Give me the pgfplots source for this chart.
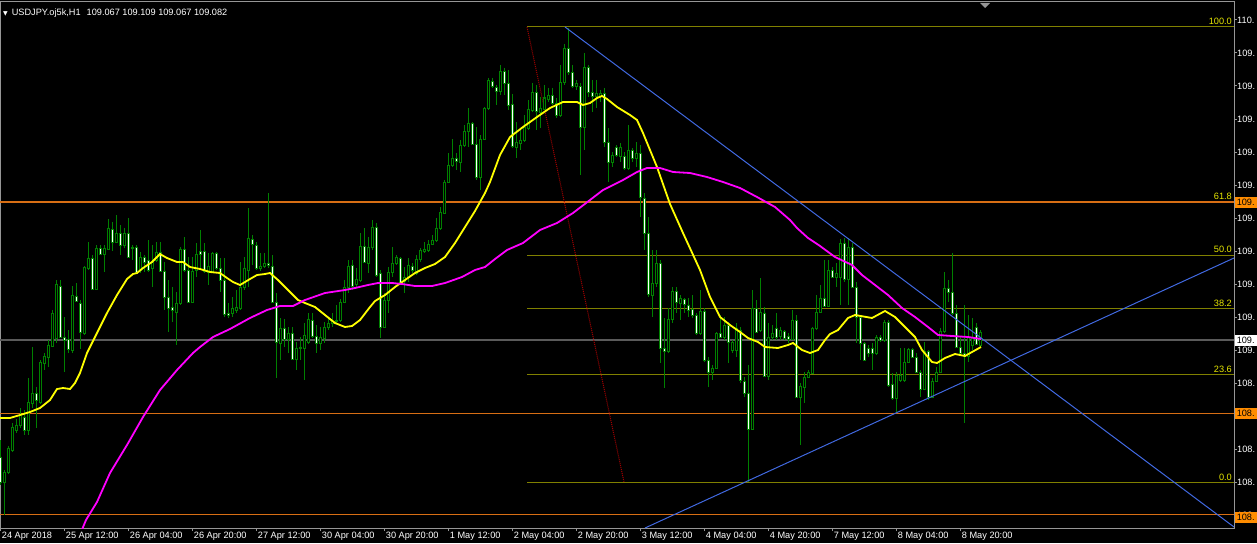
\documentclass[border=0pt]{standalone}
\usepackage{pgfplots}
\pgfplotsset{compat=1.18}
\usepackage{pgfplotstable}
\usepackage{fontspec}
\setmainfont{Liberation Sans}
\newfontfamily\dejavu{DejaVu Sans}
\definecolor{cgreen}{RGB}{0,128,0}
\definecolor{fibc}{RGB}{128,128,0}
\definecolor{fibt}{RGB}{230,230,0}
\definecolor{orng}{RGB}{215,110,20}
\definecolor{orbox}{RGB}{255,140,0}
\definecolor{tline}{RGB}{65,105,225}
\definecolor{bidc}{RGB}{90,90,90}
\definecolor{frm}{RGB}{150,150,150}
\definecolor{mag}{RGB}{255,0,255}
\definecolor{yel}{RGB}{255,255,0}
\definecolor{fibd}{RGB}{160,0,0}

% candles: bar index, open, high, low, close (price scale in chart pixels, top = high)
\pgfplotstableread{
i o h l c
0 457 440 485 482
1 482 470 515 472
2 472 446 474 448
3 450 423 452 427
4 430 419 433 425
5 425 408 428 415
6 417 410 435 430
7 430 378 435 402
8 403 347 408 393
9 393 387 428 400
10 402 360 404 362
11 363 353 370 356
12 357 340 367 345
13 346 310 347 313
14 338 280 343 284
15 286 280 338 337
16 337 317 372 340
17 339 330 353 349
18 350 286 353 295
19 296 283 302 301
20 303 300 349 332
21 333 266 335 267
22 268 242 270 258
23 258 255 290 289
24 289 245 290 248
25 248 245 255 254
26 254 245 272 248
27 249 219 250 228
28 229 222 251 242
29 242 215 243 233
30 233 225 255 245
31 245 228 248 233
32 233 218 258 257
33 248 245 260 247
34 247 245 273 272
35 270 252 273 257
36 257 255 272 262
37 260 240 272 270
38 268 245 287 262
39 260 242 262 252
40 252 242 272 271
41 271 262 310 297
42 297 280 332 308
43 307 287 322 310
44 312 292 345 303
45 303 247 305 249
46 249 237 272 270
47 270 257 303 302
48 302 257 303 271
49 270 243 277 254
50 251 230 270 254
51 251 243 273 271
52 272 253 285 266
53 271 252 273 253
54 253 252 270 268
55 268 258 292 280
56 280 258 317 314
57 313 303 318 315
58 313 297 317 308
59 310 290 313 307
60 308 262 310 287
61 287 257 290 268
62 270 208 287 238
63 239 235 265 244
64 245 242 270 268
65 268 253 271 266
66 266 253 268 263
67 263 193 268 265
68 266 255 303 302
69 302 293 378 342
70 343 318 360 328
71 328 319 347 339
72 339 327 353 333
73 333 327 360 359
74 359 342 370 348
75 348 337 360 347
76 348 323 380 335
77 342 313 344 319
78 320 313 338 336
79 336 325 353 343
80 343 327 350 337
81 338 322 343 327
82 327 317 330 323
83 323 313 327 321
84 321 305 323 320
85 320 299 322 302
86 302 280 303 287
87 287 260 293 266
88 265 260 290 286
89 284 268 287 279
90 280 233 282 246
91 246 228 263 262
92 263 237 273 247
93 247 220 250 227
94 227 223 277 275
95 273 270 338 327
96 327 293 328 300
97 300 267 313 272
98 272 247 277 263
99 263 255 265 257
100 258 257 283 282
101 281 267 293 277
102 277 258 282 265
103 266 263 273 270
104 273 255 275 259
105 259 248 262 250
106 251 242 253 249
107 250 240 252 244
108 244 235 245 240
109 240 218 242 228
110 228 207 230 212
111 213 180 214 182
112 182 153 183 165
113 165 139 167 158
114 158 153 170 161
115 162 140 172 145
116 145 125 147 131
117 131 108 147 123
118 123 122 145 144
119 144 127 180 177
120 177 135 190 139
121 139 107 140 108
122 108 78 110 81
123 82 78 88 87
124 88 85 105 92
125 92 65 95 72
126 72 68 95 84
127 84 70 110 105
128 104 94 148 146
129 147 122 158 142
130 143 128 150 140
131 140 115 142 127
132 128 100 130 109
133 110 83 112 93
134 93 85 130 111
135 112 97 128 108
136 109 85 110 98
137 99 88 102 96
138 96 88 105 103
139 103 98 118 115
140 115 65 117 83
141 83 44 85 49
142 49 28 75 73
143 73 65 88 87
144 87 80 90 84
145 87 83 175 127
146 127 53 150 68
147 68 65 97 93
148 93 80 112 97
149 97 80 108 94
150 97 90 102 94
151 94 88 147 142
152 142 128 182 162
153 162 152 167 155
154 147 145 157 155
155 156 143 162 147
156 156 152 170 168
157 168 125 170 150
158 150 148 162 158
159 158 142 167 153
160 153 145 217 197
161 198 193 250 233
162 233 217 297 294
163 295 250 317 283
164 283 250 287 263
165 263 260 363 348
166 348 318 388 351
167 351 308 353 319
168 319 287 323 291
169 291 287 313 302
170 303 295 320 298
171 299 298 313 304
172 305 298 317 310
173 309 295 318 315
174 315 313 335 333
175 333 290 335 311
176 311 308 362 360
177 360 357 387 372
178 372 365 380 368
179 368 332 369 333
180 333 315 338 337
181 337 317 340 325
182 325 322 363 342
183 350 340 353 342
184 350 323 357 328
185 330 327 383 380
186 381 377 397 393
187 393 365 482 429
188 429 290 430 308
189 308 300 333 332
190 330 278 332 312
191 313 307 377 376
192 376 323 380 337
193 337 325 340 333
194 328 313 340 337
195 336 327 340 330
196 331 330 340 338
197 336 333 343 339
198 339 310 340 320
199 320 315 398 397
200 397 383 445 386
201 387 372 403 377
202 377 370 378 372
203 373 327 373 328
204 328 295 330 312
205 312 285 313 298
206 298 260 307 306
207 306 260 307 270
208 270 267 278 277
209 277 263 287 273
210 277 239 305 243
211 243 238 282 279
212 279 238 305 247
213 247 243 288 287
214 287 282 343 317
215 317 317 360 343
216 343 342 361 360
217 348 345 357 353
218 348 343 370 353
219 353 335 355 337
220 337 335 342 340
221 340 320 342 322
222 322 320 387 385
223 384 373 400 398
224 398 372 412 375
225 380 348 382 375
226 380 348 382 362
227 362 348 363 349
228 349 348 358 357
229 357 353 373 372
230 372 370 397 389
231 389 342 390 351
232 351 350 400 397
233 397 378 398 381
234 381 367 382 372
235 372 328 373 331
236 331 272 333 288
237 288 280 302 292
238 292 253 315 313
239 313 305 348 347
240 347 337 355 353
241 353 305 423 356
242 356 315 362 337
243 345 318 350 337
244 327 323 345 344
245 345 330 347 332
}\candles

\begin{document}
\begin{tikzpicture}[x=1pt,y=1pt]
\fill[black] (0,0) rectangle (1257,543);
\useasboundingbox (0,0) rectangle (1257,543);
\begin{axis}[
  at={(0pt,15pt)}, anchor=south west,
  scale only axis, width=1234pt, height=526pt,
  xmin=0, xmax=1234, ymin=2, ymax=528, y dir=reverse,
  axis line style={frm, line width=1pt},
  clip mode=individual,
  tick align=outside, major tick length=3pt,
  tick style={frm, line width=1pt},
  xtick pos=bottom, ytick pos=right, yticklabel pos=right,
  tick label style={white, font=\fontsize{9.2}{10}\selectfont},
  xtick={0.7,64.7,128.7,192.7,256.7,320.7,384.7,448.7,512.7,576.7,640.7,704.7,768.7,832.7,896.7,960.7},
  xticklabels={24 Apr 2018,25 Apr 12:00,26 Apr 04:00,26 Apr 20:00,27 Apr 12:00,30 Apr 04:00,30 Apr 20:00,1 May 12:00,2 May 04:00,2 May 20:00,3 May 12:00,4 May 04:00,4 May 20:00,7 May 12:00,8 May 04:00,8 May 20:00},
  xticklabel style={anchor=north west, inner sep=0pt, xshift=1pt, yshift=-1pt},
  ytick={20,53,86,119,152,185,218,251,284,317,350,383,416,449,482,515},
  yticklabels={110.,109.,109.,109.,109.,109.,109.,109.,109.,109.,109.,108.,108.,108.,108.,108.},
  yticklabel style={anchor=west, inner sep=0pt, xshift=0pt},
]
% bid line
\addplot[bidc, line width=1.3pt] coordinates {(0,340) (1234,340)};
% horizontal lines
\addplot[orng, line width=1.2pt] coordinates {(0,202) (1234,202)};
\addplot[orng, line width=1.2pt] coordinates {(0,413.5) (1234,413.5)};
\addplot[orng, line width=1.2pt] coordinates {(0,514.5) (1234,514.5)};
% Fibonacci levels
\addplot[fibc, line width=1pt] coordinates {(527,27) (1234,27)};
\addplot[fibc, line width=1pt] coordinates {(527,255) (1234,255)};
\addplot[fibc, line width=1pt] coordinates {(527,308.3) (1234,308.3)};
\addplot[fibc, line width=1pt] coordinates {(527,374.5) (1234,374.5)};
\addplot[fibc, line width=1pt] coordinates {(527,482.3) (1234,482.3)};
\addplot[fibd, line width=1pt, densely dotted] coordinates {(527,27) (624,482)};
% candles
\addplot[cgreen, line width=1pt, quiver={u=0, v={\thisrow{l}-\thisrow{h}}}]
  table[x expr={0.7+4*\thisrow{i}}, y=h]{\candles};
\addplot[cgreen, line width=3pt, quiver={u=0, v={abs(\thisrow{c}-\thisrow{o})+1}}]
  table[x expr={0.7+4*\thisrow{i}}, y expr={min(\thisrow{o},\thisrow{c})-0.5}]{\candles};
\addplot[white, line width=1.0pt, quiver={u=0, v={max(\thisrow{c}-\thisrow{o}-1,0)}}]
  table[x expr={0.7+4*\thisrow{i}}, y expr={\thisrow{o}+0.5}]{\candles};
\addplot[black, line width=1.0pt, quiver={u=0, v={max(\thisrow{o}-\thisrow{c}-1,0)}}]
  table[x expr={0.7+4*\thisrow{i}}, y expr={\thisrow{c}+0.5}]{\candles};
% moving averages
\addplot[yel, line width=1.8pt] coordinates {
(0,418) (10,418) (20,415) (30,412) (40,408) (50,400) (57,389) (63,388) (70,389) (75,383) (80,373) (87,353) (97,333) (107,313) (117,295) (127,279) (133,274) (137,273) (143,268) (152,262) (160,254) (167,258) (177,262) (183,262) (190,267) (200,269) (210,272) (220,273) (227,278) (233,282) (240,285) (245,282) (250,279) (257,275) (265,274) (270,273) (278,280) (288,290) (298,300) (305,303) (315,307) (325,315) (335,323) (345,327) (352,326) (360,320) (370,307) (375,301) (385,295) (395,287) (405,280) (415,273) (425,268) (435,264) (445,257) (455,243) (465,227) (475,211) (485,193) (490,182) (500,155) (510,137) (523,127) (537,117) (550,108) (563,102) (577,102) (583,105) (590,103) (597,98) (602,96) (607,99) (617,107) (630,115) (637,120) (643,133) (650,150) (657,167) (670,204) (683,233) (700,270) (710,297) (720,317) (730,325) (740,332) (748,338) (758,342) (765,347) (778,348) (788,345) (793,343) (802,350) (810,353) (818,350) (825,340) (830,334) (838,330) (848,318) (855,315) (872,318) (885,311) (895,317) (905,327) (915,337) (922,350) (932,362) (937,363) (945,358) (955,354) (965,356) (972,352) (981,347)};
\addplot[mag, line width=1.8pt] coordinates {
(81,532) (86,520) (97,502) (110,473) (127,445) (143,417) (160,390) (177,370) (193,353) (200,347) (213,337) (230,329) (250,318) (267,310) (280,306) (293,306) (305,300) (325,293) (345,290) (355,288) (368,285) (378,283) (392,283) (402,284) (415,286) (432,286) (445,283) (462,277) (475,270) (485,267) (495,259) (507,250) (523,243) (540,230) (557,223) (573,213) (590,200) (603,190) (623,180) (637,172) (647,168) (660,168) (673,172) (690,173) (707,177) (723,182) (740,188) (757,197) (775,207) (790,220) (797,228) (808,238) (820,246) (835,257) (852,265) (862,275) (875,285) (888,295) (902,308) (915,317) (928,327) (938,335) (952,336) (968,337) (981,339)};
% trend lines
\addplot[tline, line width=1pt] coordinates {(565,27) (1234,527)};
\addplot[tline, line width=1pt] coordinates {(645,528) (1234,258)};
% fib labels
\begin{scope}[every node/.style={anchor=south east, inner sep=0pt, text=fibt, font=\fontsize{9.2}{10}\selectfont}]
\node at (axis cs:1232,25) {100.0};
\node at (axis cs:1232,200) {61.8};
\node at (axis cs:1232,253) {50.0};
\node at (axis cs:1232,306.3) {38.2};
\node at (axis cs:1232,372.5) {23.6};
\node at (axis cs:1232,480.3) {0.0};
\end{scope}
% price boxes on the right scale
\begin{scope}[every node/.style={anchor=west, inner sep=1pt, minimum height=11pt, minimum width=26pt, align=left, text=black, font=\fontsize{9.2}{10}\selectfont}]
\node[fill=orbox] at (axis cs:1234.5,202) {109.\hspace{4pt}};
\node[fill=orbox] at (axis cs:1234.5,413.5) {108.\hspace{4pt}};
\node[fill=orbox] at (axis cs:1234.5,517) {108.\hspace{4pt}};
\node[fill=white] at (axis cs:1234.5,340) {109.\hspace{4pt}};
\end{scope}
% title
\node[anchor=west, inner sep=0pt, text=white, font=\fontsize{9.2}{10}\selectfont] at (axis cs:3,13)
  {{\dejavu\fontsize{6}{7}\selectfont ▼}\hspace{4pt}USDJPY.oj5k,H1\hspace{6pt}109.067 109.109 109.067 109.082};
% chart shift marker
\fill[frm] (axis cs:980,3) -- (axis cs:990,3) -- (axis cs:985,8) -- cycle;
\end{axis}
\end{tikzpicture}
\end{document}
